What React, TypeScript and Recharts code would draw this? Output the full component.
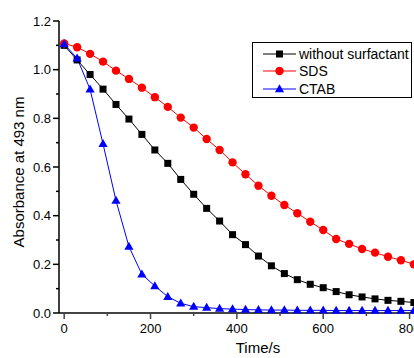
import { LineChart, Line, XAxis, YAxis, Legend, Label } from 'recharts';

const times = [0, 30, 60, 90, 120, 150, 180, 210, 240, 270, 300, 330, 360, 390, 420, 450, 480, 510, 540, 570, 600, 630, 660, 690, 720, 750, 780, 810];

const withoutSurfactant = [1.10, 1.04, 0.98, 0.92, 0.857, 0.797, 0.734, 0.670, 0.615, 0.549, 0.488, 0.430, 0.378, 0.322, 0.281, 0.234, 0.194, 0.162, 0.137, 0.118, 0.104, 0.088, 0.075, 0.066, 0.058, 0.052, 0.048, 0.043];
const sds = [1.108, 1.092, 1.065, 1.033, 0.996, 0.962, 0.926, 0.887, 0.847, 0.803, 0.762, 0.715, 0.670, 0.619, 0.570, 0.523, 0.482, 0.444, 0.410, 0.375, 0.341, 0.304, 0.284, 0.263, 0.248, 0.231, 0.217, 0.200];
const ctab = [1.105, 1.047, 0.919, 0.695, 0.462, 0.273, 0.159, 0.111, 0.067, 0.040, 0.026, 0.022, 0.018, 0.016, 0.014, 0.013, 0.012, 0.012, 0.011, 0.011, 0.011, 0.010, 0.010, 0.010, 0.010, 0.010, 0.010, 0.010];

const xTicks = [0, 100, 200, 300, 400, 500, 600, 700, 800];
const yTicks = [0, 0.1, 0.2, 0.3, 0.4, 0.5, 0.6, 0.7, 0.8, 0.9, 1.0, 1.1, 1.2];

const data = times.map((t, i) => ({ t, none: withoutSurfactant[i], sds: sds[i], ctab: ctab[i] }));

const FONT = '"Liberation Sans", Arial, sans-serif';

function Marker({ kind, cx, cy, color }: { kind: string; cx: number; cy: number; color: string }) {
  if (kind === 'square') return <rect x={cx - 3.5} y={cy - 3.5} width={7} height={7} fill={color} />;
  if (kind === 'circle') return <circle cx={cx} cy={cy} r={4.2} fill={color} />;
  return <polygon points={`${cx},${cy - 4.8} ${cx + 4.6},${cy + 3.2} ${cx - 4.6},${cy + 3.2}`} fill={color} />;
}

const makeDot = (kind: string, color: string) => (props: any) => (
  <Marker key={`${kind}-${props.index}`} kind={kind} cx={props.cx} cy={props.cy} color={color} />
);

const series = [
  { key: 'none', name: 'without surfactant', color: '#000000', kind: 'square' },
  { key: 'sds', name: 'SDS', color: '#ff0000', kind: 'circle' },
  { key: 'ctab', name: 'CTAB', color: '#0000ff', kind: 'triangle' },
];

function XTick({ x, y, payload }: any) {
  const major = payload.value % 200 === 0;
  return (
    <g>
      <line x1={x} y1={y} x2={x} y2={y + (major ? 6 : 3)} stroke="#444" strokeWidth={1.5} />
      {major && (
        <text x={x} y={y + 20} textAnchor="middle" fontSize={13} fontFamily={FONT} fill="#000">
          {payload.value}
        </text>
      )}
    </g>
  );
}

function YTick({ x, y, payload }: any) {
  const major = Math.round(payload.value * 10) % 2 === 0;
  return (
    <g>
      <line x1={x - (major ? 6 : 3)} y1={y} x2={x} y2={y} stroke="#000" strokeWidth={1.5} />
      {major && (
        <text x={x - 8} y={y + 4.5} textAnchor="end" fontSize={13} fontFamily={FONT} fill="#000">
          {payload.value.toFixed(1)}
        </text>
      )}
    </g>
  );
}

function LegendBox() {
  return (
    <div style={{ border: '1.5px solid #000', background: '#fff', padding: '2px 0', boxSizing: 'border-box', height: 56 }}>
      {series.map((s) => (
        <div key={s.key} style={{ display: 'flex', alignItems: 'center', height: 17.5 }}>
          <svg width={46} height={14} style={{ flex: 'none' }}>
            <line x1={10} y1={7} x2={43} y2={7} stroke={s.color} strokeWidth={1} />
            <Marker kind={s.kind} cx={26.5} cy={7} color={s.color} />
          </svg>
          <span style={{ fontFamily: FONT, fontSize: 14, color: '#000', whiteSpace: 'nowrap' }}>{s.name}</span>
        </div>
      ))}
    </div>
  );
}

export default function App() {
  return (
    <div style={{ position: 'fixed', left: 0, top: 0, width: 414, height: 358, overflow: 'hidden', background: '#fff' }}>
      <LineChart width={470} height={358} data={data} margin={{ top: 21, right: 0, bottom: 0, left: 0 }}>
        <XAxis
          dataKey="t"
          type="number"
          domain={[-12, 940]}
          ticks={xTicks}
          allowDataOverflow
          height={45}
          tickSize={0}
          tickMargin={0}
          tickLine={false}
          tick={<XTick />}
          axisLine={{ stroke: '#444', strokeWidth: 2 }}
        >
          <Label
            content={() => (
              <text x={258} y={353} textAnchor="middle" fontSize={15} fontFamily={FONT} fill="#000">
                Time/s
              </text>
            )}
          />
        </XAxis>
        <YAxis
          type="number"
          domain={[0, 1.2]}
          ticks={yTicks}
          width={59}
          tickSize={0}
          tickMargin={0}
          tickLine={false}
          tick={<YTick />}
          axisLine={{ stroke: '#000', strokeWidth: 1.5 }}
        >
          <Label
            content={() => (
              <text
                x={24}
                y={172}
                transform="rotate(-90 24 172)"
                textAnchor="middle"
                fontSize={15}
                fontFamily={FONT}
                fill="#000"
              >
                Absorbance at 493 nm
              </text>
            )}
          />
        </YAxis>
        <Legend
          layout="vertical"
          align="center"
          verticalAlign="middle"
          content={() => <LegendBox />}
          wrapperStyle={{ left: 252, top: 42, width: 160, height: 56 }}
        />
        {series.map((s) => (
          <Line
            key={s.key}
            dataKey={s.key}
            name={s.name}
            stroke={s.color}
            strokeWidth={1}
            dot={makeDot(s.kind, s.color)}
            activeDot={false}
            isAnimationActive={false}
          />
        ))}
      </LineChart>
    </div>
  );
}
